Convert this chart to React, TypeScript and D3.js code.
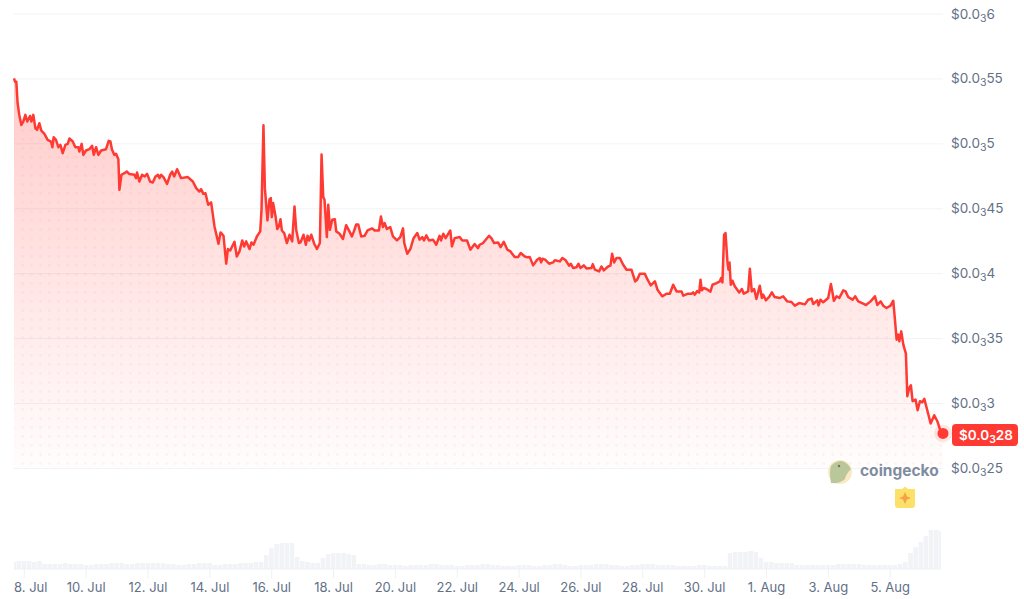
import * as d3 from "d3";

const WIDTH = 1024;
const HEIGHT = 599;
const PLOT = { left: 14, right: 943, top: 14, bottom: 468 };
const VOLUME = { top: 529, bottom: 569 };
const RED = "#ff3a33";
const MUTED = "#627086";
const FONT = "Inter, 'Noto Sans', sans-serif";

// hours since 8 Jul 00:00
const hours = [
  -8, -7.2, -6.2, -5.2, -3.9, -2.3, -0.8, 0.8, 2.3, 4.4, 5.5, 7, 8.6, 9.9, 11.7, 13.2, 15.6, 18.1, 20.7, 21.8,
  22.8, 24.6, 26.4, 28, 29.8, 31.9, 33.7, 35, 37.6, 39.6, 42, 42.7, 44.5, 45.8, 47.9, 50.5, 52.6, 53.9, 55.7, 57.5,
  59.6, 63.4, 65.5, 66.8, 68.1, 69.9, 71.2, 73, 73.8, 75.4, 77.7, 79.5, 81.6, 85.4, 86.7, 87.5, 89.3, 91.4, 93.5, 95.3,
  97.6, 99.7, 101.8, 103.8, 104.9, 106.2, 108, 110.8, 113.2, 114.7, 116.3, 118.6, 121.7, 126.9, 130.8, 133.4, 135.9, 137.2, 139, 140.6,
  142.7, 145, 147.6, 150.7, 152.3, 154.6, 156.7, 158, 159.8, 163.1, 164.9, 167,
  169.1, 170.6, 172.2, 174.8, 176.3, 177.9, 180.5, 183.1, 184.1, 185.6, 186.7, 188.7, 190.3, 191.3, 192.1, 193.1, 195, 196.3,
  197.6, 198.8, 199.9, 201.7, 203.8, 205.8, 207.9, 209.7, 211, 213.1, 214.4, 216.7, 218.5, 219.8, 221.1, 222.7, 225, 227.1,
  229.4, 230.7, 232, 233, 234.8, 235.9, 237.2, 239, 241, 242.1, 244.7, 247.3, 249.8, 253, 254.2, 255.8, 257.6, 259.2,
  261.5, 264.1, 266.4, 270, 271.9, 275.2, 276.8, 278.3, 279.6, 281.4, 284, 286.1, 289.2, 291.8, 293.9, 294.9, 297.2, 299.6,
  302.1, 305, 306.8, 308.9, 310.2, 312, 314.1, 317.2, 319.7, 322.3, 323.4, 325.2, 327, 330.6, 331.9, 334, 337.9, 339.9,
  343.6, 346.2, 349.5, 352.1, 353.4,
  356, 360.7, 362.5, 364.6, 367.7, 369.7, 372.1, 374.9, 377.3, 380.6, 383.2, 385.3, 388.4, 390.5, 392.3, 394.9, 398, 400,
  401.1, 402.1, 404.2, 407.3, 410.4, 411.7, 415.6, 417.6, 420.2, 422.8, 424.1, 425.9, 428.5, 430.1, 431.6, 434.2, 436.3, 440.2,
  441.2, 442.8, 446.1, 447.9, 449.7, 453.1, 454.9, 456.2, 457.8, 459.6, 462.2, 464.8, 467.4, 471.2, 474.1, 475.6, 477.7, 481.6,
  483.7, 486.2, 489.4, 491.4, 495.1, 498.4, 501, 503.6, 506.2, 510.1, 511.4, 515.2, 517.8, 519.1, 520.4, 522.2, 523.8,
  524.8, 525.8, 527.3, 529.4, 532.5, 534.1, 537.2, 539.8, 540.8, 541.8, 543.1, 544.2, 545.7, 546.5, 547.3, 548.3, 549.6, 551.4,
  554.8, 556.9, 558.4, 561.8, 563.1, 564.6, 566.4, 568.2, 570.8, 572.4, 573.4, 575.5, 578.1, 580.2, 582.2, 586.4, 588.9, 592.1,
  595.4, 598, 601.4, 605.8, 608.4, 611, 612.3, 615.4, 616.4, 617.9, 620, 623.9, 626, 627.3, 628.3, 630.4, 632.5, 635.6,
  637.4, 639.4, 642.8, 644.9, 647.2, 651.1, 653.2, 656.8, 660.2, 662, 664.6, 666.6, 669.2, 672.3, 674.4, 675.7, 677, 678.3,
  679.1, 680.6, 682.2, 684.2, 685.3, 686.8, 688.1, 689.4, 691.7, 693.3, 695.1, 696.9, 698.5, 700.8, 703.4, 706.2, 708.6, 711.2, 713,
];

// price in units of 0.0001 (shown as $0.0₃x)
const prices = [
  5.505, 5.479, 5.479, 5.313, 5.223, 5.146, 5.172, 5.223, 5.172, 5.215, 5.172, 5.223, 5.12, 5.108, 5.159, 5.102, 5.077, 5.031, 5.018, 4.974,
  5.051, 5.031, 4.974, 4.992, 4.928, 4.992, 5, 5.041, 5.018, 4.974, 4.974, 4.941, 5, 4.915, 4.949, 4.959, 4.985, 4.915, 4.974, 4.915,
  4.949, 4.959, 5.023, 5.018, 4.954, 4.915, 4.923, 4.882, 4.646, 4.762, 4.774, 4.787, 4.767, 4.762, 4.736, 4.779, 4.71, 4.762, 4.749, 4.769,
  4.71, 4.702, 4.749, 4.762, 4.736, 4.762, 4.744, 4.692, 4.762, 4.787, 4.749, 4.805, 4.736, 4.744, 4.71, 4.659, 4.633, 4.651, 4.615, 4.62,
  4.531, 4.549, 4.364, 4.231, 4.318, 4.292, 4.077, 4.19, 4.179, 4.246, 4.133, 4.172,
  4.256, 4.21, 4.249, 4.19, 4.241, 4.223, 4.287, 4.326, 4.492, 5.144, 4.659, 4.41, 4.574, 4.582, 4.436, 4.544, 4.441, 4.344,
  4.364, 4.42, 4.333, 4.313, 4.236, 4.3, 4.249, 4.518, 4.338, 4.236, 4.241, 4.3, 4.223, 4.292, 4.256, 4.3, 4.231, 4.19,
  4.236, 4.918, 4.59, 4.569, 4.282, 4.531, 4.338, 4.415, 4.42, 4.326, 4.308, 4.267, 4.374, 4.313, 4.287, 4.326, 4.379, 4.379,
  4.287, 4.292, 4.333, 4.349, 4.333, 4.333, 4.441, 4.359, 4.39, 4.344, 4.359, 4.287, 4.256, 4.282, 4.349, 4.236, 4.154, 4.19,
  4.274, 4.313, 4.262, 4.282, 4.256, 4.295, 4.256, 4.262, 4.223, 4.292, 4.256, 4.308, 4.274, 4.333, 4.21, 4.274, 4.282, 4.256,
  4.256, 4.185, 4.228, 4.197, 4.223,
  4.236, 4.292, 4.274, 4.236, 4.241, 4.205, 4.246, 4.185, 4.172, 4.128, 4.128, 4.159, 4.133, 4.126, 4.128, 4.064, 4.108, 4.121,
  4.087, 4.115, 4.108, 4.077, 4.087, 4.103, 4.095, 4.121, 4.103, 4.062, 4.077, 4.044, 4.049, 4.077, 4.044, 4.064, 4.041, 4.044,
  4.074, 4.031, 4.018, 4.056, 4.026, 4.056, 4.062, 4.154, 4.087, 4.121, 4.121, 4.069, 4.031, 4.031, 3.941, 3.954, 4, 4,
  3.954, 3.91, 3.941, 3.877, 3.826, 3.846, 3.846, 3.915, 3.864, 3.864, 3.831, 3.846, 3.846, 3.856, 3.839, 3.867, 3.856,
  3.954, 3.872, 3.89, 3.882, 3.862, 3.915, 3.928, 3.941, 3.967, 3.933, 4.3, 4.313, 4.095, 4.031, 4.087, 3.915, 3.946, 3.903,
  3.856, 3.882, 3.846, 3.864, 4.039, 3.864, 3.882, 3.805, 3.908, 3.813, 3.839, 3.795, 3.821, 3.856, 3.821, 3.813, 3.826, 3.787,
  3.782, 3.754, 3.774, 3.764, 3.8, 3.808, 3.767, 3.795, 3.756, 3.8, 3.78, 3.813, 3.921, 3.851, 3.792, 3.826, 3.813, 3.872,
  3.864, 3.821, 3.8, 3.826, 3.787, 3.769, 3.759, 3.787, 3.826, 3.759, 3.787, 3.754, 3.736, 3.754, 3.792, 3.646, 3.492, 3.531,
  3.48, 3.556, 3.454, 3.385, 3.056, 3.121, 3.141, 3.018, 3.031, 2.949, 3.018, 3.01, 3.036, 2.949, 2.846, 2.91, 2.864, 2.785, 2.77,
];

// volume per 4 hour bucket, relative to the busiest bucket = 40
const volumes = [
  7, 8, 8, 8, 7, 8,
  5, 5, 5, 5, 6, 5, 5, 5, 4, 4, 5, 5, 5, 6, 6, 6, 5, 5, 6, 6, 6, 6, 6, 6, 5, 5, 4, 4, 5, 5, 6, 6, 6,
  4, 4, 5, 5, 5, 6, 6, 6, 7, 7,
  14, 21, 25, 26, 26, 26,
  12, 8, 7, 6, 6,
  11, 15, 16, 16, 16, 15, 14,
  5, 5, 4, 4, 5, 5, 4, 4, 4, 3, 4, 4, 4, 4, 5, 5, 4, 4, 4, 3, 3, 4, 4, 4, 5, 5, 4, 4, 3, 3, 3, 4, 4, 4,
  3, 3, 4, 4, 5, 5, 4, 3, 3, 4, 4, 4, 5, 5, 5, 4, 4, 3, 3, 4, 4, 5, 5, 5, 4, 4, 4, 4, 3, 3, 3, 3, 4, 4, 3,
  3, 3, 3,
  16, 17, 17, 17, 18, 17,
  11, 7, 7, 6, 6, 6, 6,
  4, 4, 4, 4, 4, 4, 4, 4, 5, 5, 5, 5, 5, 4, 4, 4, 4, 4, 4, 4, 5,
  7, 16, 22, 27, 33, 39, 39, 38, 27,
];

const priceTicks = [6, 5.5, 5, 4.5, 4, 3.5, 3, 2.5];
const timeTickLabels = ["8. Jul", "10. Jul", "12. Jul", "14. Jul", "16. Jul", "18. Jul", "20. Jul", "22. Jul", "24. Jul", "26. Jul", "28. Jul", "30. Jul", "1. Aug", "3. Aug", "5. Aug"];
const timeTickHours = [0, 48, 96, 144, 192, 240, 288, 336, 384, 432, 480, 528, 576, 624, 672];
const lastPriceLabel = "28";

const x = d3.scaleLinear().domain([-8, 713]).range([PLOT.left, PLOT.right]);
const y = d3.scaleLinear().domain([2.5, 6]).range([PLOT.bottom + 0.5, PLOT.top]);
const yVol = d3.scaleLinear().domain([0, 40]).range([VOLUME.bottom, VOLUME.top]);

const series = hours.map((h, i) => [h, prices[i]] as [number, number]);
const linePath = d3.line<[number, number]>().x((d) => x(d[0])).y((d) => y(d[1]))(series) ?? "";
const areaPath =
  d3
    .area<[number, number]>()
    .x((d) => x(d[0]))
    .y0(PLOT.bottom)
    .y1((d) => y(d[1]))(series) ?? "";

// "$0.0" + small 3 + digits
const Price = ({ digits, size }: { digits: string; size: number }) => (
  <>
    $0.0
    <tspan fontSize={size * 0.78} dy={3}>3</tspan>
    <tspan dy={-3}>{digits}</tspan>
  </>
);

const App = () => {
  const last = series[series.length - 1];
  const lx = x(last[0]);
  const ly = y(last[1]);
  return (
    <svg
      width={WIDTH}
      height={HEIGHT}
      style={{ position: "fixed", left: 0, top: 0, background: "#fff" }}
      fontFamily={FONT}
    >
      <defs>
        <linearGradient id="area-fill" gradientUnits="userSpaceOnUse" x1={0} x2={0} y1={y(5.5)} y2={PLOT.bottom}>
          <stop offset="0%" stopColor={RED} stopOpacity={0.26} />
          <stop offset="100%" stopColor={RED} stopOpacity={0.01} />
        </linearGradient>
        <pattern id="area-dots" patternUnits="userSpaceOnUse" width={9} height={9}>
          <circle cx={4.5} cy={4.5} r={1.4} fill={RED} fillOpacity={0.055} />
        </pattern>
        <clipPath id="volume-clip">
          <rect x={PLOT.left} y={VOLUME.top} width={PLOT.right - PLOT.left - 2} height={VOLUME.bottom - VOLUME.top} />
        </clipPath>
      </defs>

      {priceTicks.map((t) => (
        <line key={t} x1={PLOT.left} x2={PLOT.right} y1={y(t)} y2={y(t)} stroke="#f1f3f5" strokeWidth={1} />
      ))}

      <path d={areaPath} fill="url(#area-fill)" />
      <path d={areaPath} fill="url(#area-dots)" />
      <path d={linePath} fill="none" stroke={RED} strokeWidth={2.5} strokeLinejoin="round" />

      <circle cx={lx} cy={ly} r={9} fill={RED} fillOpacity={0.12} />
      <circle cx={lx} cy={ly} r={5.5} fill={RED} />

      {priceTicks.map((t) => (
        <text key={t} x={951} y={y(t) + 4.5} fontSize={13.5} fill={MUTED}>
          <Price digits={String(t).replace(".", "")} size={13.5} />
        </text>
      ))}

      <rect x={952} y={424} width={66} height={22} rx={4} fill={RED} />
      <text x={959} y={439.5} fontSize={13.5} fontWeight={600} fill="#fff">
        <Price digits={lastPriceLabel} size={13.5} />
      </text>

      <g clipPath="url(#volume-clip)">
        {volumes.map((v, i) => {
          const h0 = -8 + i * 4;
          return (
            <rect
              key={i}
              x={x(h0 - 2)}
              y={yVol(v)}
              width={x(h0 + 2) - x(h0 - 2) - 0.6}
              height={yVol(0) - yVol(v)}
              fill="#f1f3f7"
            />
          );
        })}
      </g>
      <line x1={PLOT.left} x2={PLOT.right - 2} y1={VOLUME.bottom} y2={VOLUME.bottom} stroke="#eef0f4" />

      {timeTickHours.map((h, i) => (
        <g key={h}>
          <line x1={x(h)} x2={x(h)} y1={VOLUME.bottom} y2={578} stroke="#eef0f4" />
          <text
            x={i === 0 ? PLOT.left : x(h)}
            y={592}
            fontSize={13}
            fill={MUTED}
            textAnchor={i === 0 ? "start" : "middle"}
          >
            {timeTickLabels[i]}
          </text>
        </g>
      ))}

      {/* watermark */}
      <g>
        <circle cx={840} cy={472} r={12} fill="#fbe9c4" />
        <path d="M831 483 Q829 472 831 466 Q835 461 842 461 Q848 463 851 469 Q846 474 845 479 Q840 484 831 483 Z" fill="#b9c79a" />
        <circle cx={839} cy={466} r={1.2} fill="#6b7568" />
        <text x={860} y={476} fontSize={15.5} fontWeight={700} fill="#7f8ca0">coingecko</text>
        <path d="M895 489 H902 L905 486.5 L908 489 H915 V505 Q915 508 912 508 H898 Q895 508 895 505 Z" fill="#fde068" />
        <path d="M905 492 L907 496.5 L911 498 L907 499.5 L905 504 L903 499.5 L899 498 L903 496.5 Z" fill="#f7a14a" />
      </g>
    </svg>
  );
};

export default App;
